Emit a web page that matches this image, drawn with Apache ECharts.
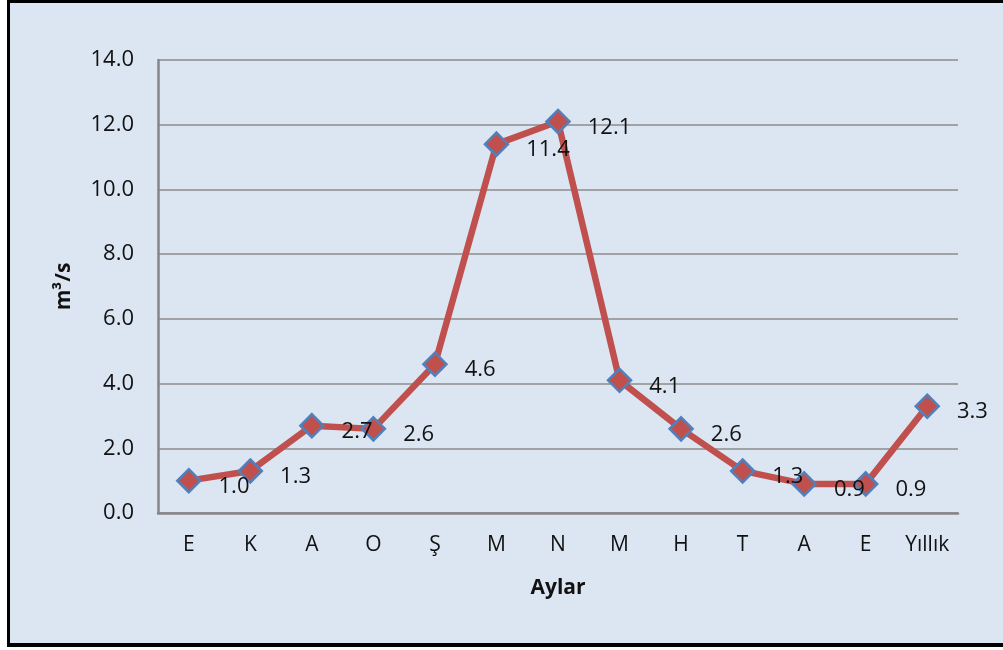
<!DOCTYPE html>
<html>
<head>
<meta charset="utf-8">
<script src="https://cdn.jsdelivr.net/npm/echarts@6/dist/echarts.min.js"></script>
<style>
	html, body { margin: 0; padding: 0; background: #ffffff; }
	#frame {
		position: absolute; left: 7px; top: 0; width: 996px; height: 647px;
		box-sizing: border-box; background: #dce6f2;
		border-left: 3px solid #000; border-top: 3px solid #000; border-bottom: 4px solid #000;
	}
	#main { width: 993px; height: 640px; }
</style>
</head>
<body>
<div id="frame"><div id="main"></div></div>
<script>
// aylar ve debiler (m³/s)
var months = ['E', 'K', 'A', 'O', 'Ş', 'M', 'N', 'M', 'H', 'T', 'A', 'E', 'Yıllık'];
var flows = [1.0, 1.3, 2.7, 2.6, 4.6, 11.4, 12.1, 4.1, 2.6, 1.3, 0.9, 0.9, 3.3];
var yTicks = { min: 0, max: 14, interval: 2 };

var myChart = echarts.init(document.getElementById('main'));
var option = {
	backgroundColor: '#dce6f2',
	textStyle: { fontFamily: 'Open Sans' },
	grid: {
		left: 148,
		top: 57,
		width: 800,
		height: 453
	},
	xAxis: {
		type: 'category',
		data: months,
		boundaryGap: true,
		name: 'Aylar',
		nameLocation: 'middle',
		nameGap: 65,
		nameTextStyle: { fontSize: 21, fontWeight: 'bold', color: '#111' },
		axisLine: { lineStyle: { color: '#868686', width: 2.5 } },
		axisTick: { show: false },
		axisLabel: { fontSize: 21, color: '#111', margin: 22 }
	},
	yAxis: {
		type: 'value',
		min: yTicks.min,
		max: yTicks.max,
		interval: yTicks.interval,
		name: 'm³/s',
		nameLocation: 'middle',
		nameGap: 83,
		nameTextStyle: { fontSize: 21, fontWeight: 'bold', color: '#111' },
		axisLine: { show: true, lineStyle: { color: '#868686', width: 2.5 } },
		axisTick: { show: false },
		axisLabel: {
			fontSize: 22,
			color: '#111',
			margin: 24,
			formatter: function (v) { return v.toFixed(1); }
		},
		splitLine: { lineStyle: { color: '#8c8c8c', width: 1.5 } }
	},
	series: [{
		type: 'line',
		data: flows,
		symbol: 'diamond',
		symbolSize: 23,
		lineStyle: { color: '#c0504d', width: 6.5 },
		itemStyle: { color: '#c0504d', borderColor: '#4f81bd', borderWidth: 2.5 },
		label: {
			show: true,
			position: 'right',
			distance: 17,
			offset: [0, 6],
			fontSize: 22,
			color: '#111',
			formatter: function (p) { return p.value.toFixed(1); }
		},
		z: 3
	}]
};
myChart.setOption(option);
</script>
</body>
</html>
